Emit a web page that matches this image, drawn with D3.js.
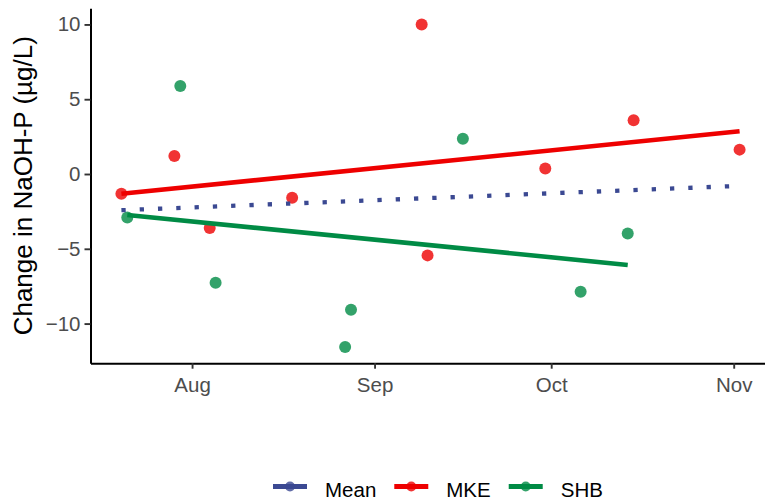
<!DOCTYPE html>
<html>
<head>
<meta charset="utf-8">
<script src="https://cdn.jsdelivr.net/npm/d3@7/dist/d3.min.js"></script>
<style>
  body { margin: 0; background: #fff; }
  svg { display: block; font-family: "Liberation Sans", Arial, Helvetica, sans-serif; }
</style>
</head>
<body>
<svg id="chart" width="765" height="500"></svg>
<script>
// Series names and colours (AAAS palette)
const seriesNames = ["Mean", "MKE", "SHB"];
const seriesColors = ["#3B4992", "#EE0000", "#008B45"];

// Sampling dates and changes in NaOH-P (µg/L) per site
const mkeDates = ["2021-07-20", "2021-07-29", "2021-08-04", "2021-08-18", "2021-09-09",
                  "2021-09-10", "2021-09-30", "2021-10-15", "2021-11-02"];
const mkeValues = [-1.32, 1.2, -3.61, -1.59, 10.0, -5.44, 0.37, 3.59, 1.63];

const shbDates = ["2021-07-21", "2021-07-30", "2021-08-05", "2021-08-27", "2021-08-28",
                  "2021-09-16", "2021-10-06", "2021-10-14"];
const shbValues = [-2.9, 5.89, -7.27, -11.57, -9.08, 2.36, -7.87, -3.97];

// Axis ticks
const yTicks = [-10, -5, 0, 5, 10];
const xTickDates = ["2021-08-01", "2021-09-01", "2021-10-01", "2021-11-01"];
const xTickLabels = ["Aug", "Sep", "Oct", "Nov"];

const parse = d3.timeParse("%Y-%m-%d");
const toPoints = (dates, values) => dates.map((d, i) => ({ date: parse(d), value: values[i] }));
const mke = toPoints(mkeDates, mkeValues);
const shb = toPoints(shbDates, shbValues);
const all = mke.concat(shb);

// Ordinary least squares fit, evaluated at the ends of the data's date range
function lmLine(pts) {
  const xs = pts.map(p => +p.date), ys = pts.map(p => p.value);
  const mx = d3.mean(xs), my = d3.mean(ys);
  let sxy = 0, sxx = 0;
  xs.forEach((xv, i) => { sxy += (xv - mx) * (ys[i] - my); sxx += (xv - mx) * (xv - mx); });
  const b = sxy / sxx, a = my - b * mx;
  const [x0, x1] = d3.extent(xs);
  return [x0, x1].map(xv => ({ date: new Date(xv), value: a + b * xv }));
}

const fits = [lmLine(all), lmLine(mke), lmLine(shb)];
const pointSets = [[], mke, shb];

const svg = d3.select("#chart");

// Scales padded by 5% of the data range on each side
function padded(ext) {
  const span = ext[1] - ext[0];
  return [ext[0] - span * 0.05, ext[1] + span * 0.05];
}
const xExt = padded(d3.extent(all, d => +d.date));
const yExt = padded(d3.extent(all, d => d.value));

const panelLeft = 90.5, panelRight = 770.5, panelTop = 8.3, panelBottom = 363.2;
const x = d3.scaleTime().domain(xExt.map(v => new Date(v))).range([panelLeft, panelRight]);
const y = d3.scaleLinear().domain(yExt).range([panelBottom, panelTop]);

// Points (under the fitted lines)
pointSets.forEach((pts, i) => {
  svg.append("g").selectAll("circle").data(pts).join("circle")
    .attr("cx", d => x(d.date))
    .attr("cy", d => y(d.value))
    .attr("r", 6)
    .attr("fill", seriesColors[i])
    .attr("opacity", 0.8);
});

// Fitted lines
const line = d3.line().x(d => x(d.date)).y(d => y(d.value));
fits.forEach((f, i) => {
  const p = svg.append("path")
    .attr("d", line(f))
    .attr("fill", "none")
    .attr("stroke", seriesColors[i])
    .attr("stroke-width", 4.6);
  if (seriesNames[i] === "Mean") {
    p.attr("stroke-width", 4.3).attr("stroke-dasharray", "4.3 14");
  }
});

// Axes
const xAxis = svg.append("g")
  .attr("transform", `translate(0,${panelBottom})`)
  .call(d3.axisBottom(x)
    .tickValues(xTickDates.map(parse))
    .tickFormat((d, i) => xTickLabels[i])
    .tickSize(5.5).tickSizeOuter(0).tickPadding(8.5));

const yAxis = svg.append("g")
  .attr("transform", `translate(${panelLeft},0)`)
  .call(d3.axisLeft(y)
    .tickValues(yTicks)
    .tickFormat(d3.format("d"))
    .tickSize(6).tickSizeOuter(0).tickPadding(4));

[xAxis, yAxis].forEach(g => {
  g.select(".domain").attr("stroke", "#000").attr("stroke-width", 2);
  g.selectAll(".tick line").attr("stroke", "#333").attr("stroke-width", 1.9);
  g.selectAll(".tick text")
    .attr("fill", "#4D4D4D")
    .attr("font-size", 20.5)
    .attr("font-family", "Liberation Sans, Arial, sans-serif");
});

// Y axis title
svg.append("text")
  .attr("transform", `translate(32,${(panelTop + panelBottom) / 2}) rotate(-90)`)
  .attr("text-anchor", "middle")
  .attr("font-size", 26)
  .attr("fill", "#000")
  .text("Change in NaOH-P (µg/L)");

// Legend along the bottom
const legend = svg.append("g");
let lx = 273;
const ly = 486.5;
seriesNames.forEach((name, i) => {
  const g = legend.append("g");
  g.append("line")
    .attr("x1", lx).attr("x2", lx + 34)
    .attr("y1", ly).attr("y2", ly)
    .attr("stroke", seriesColors[i]).attr("stroke-width", 4.8);
  g.append("circle")
    .attr("cx", lx + 17).attr("cy", ly).attr("r", 5)
    .attr("fill", seriesColors[i]).attr("opacity", 0.8);
  const t = g.append("text")
    .attr("x", lx + 52).attr("y", ly + 10)
    .attr("font-size", 20.5)
    .attr("fill", "#000")
    .text(name);
  lx = lx + 52 + t.node().getComputedTextLength() + 18;
});
</script>
</body>
</html>
